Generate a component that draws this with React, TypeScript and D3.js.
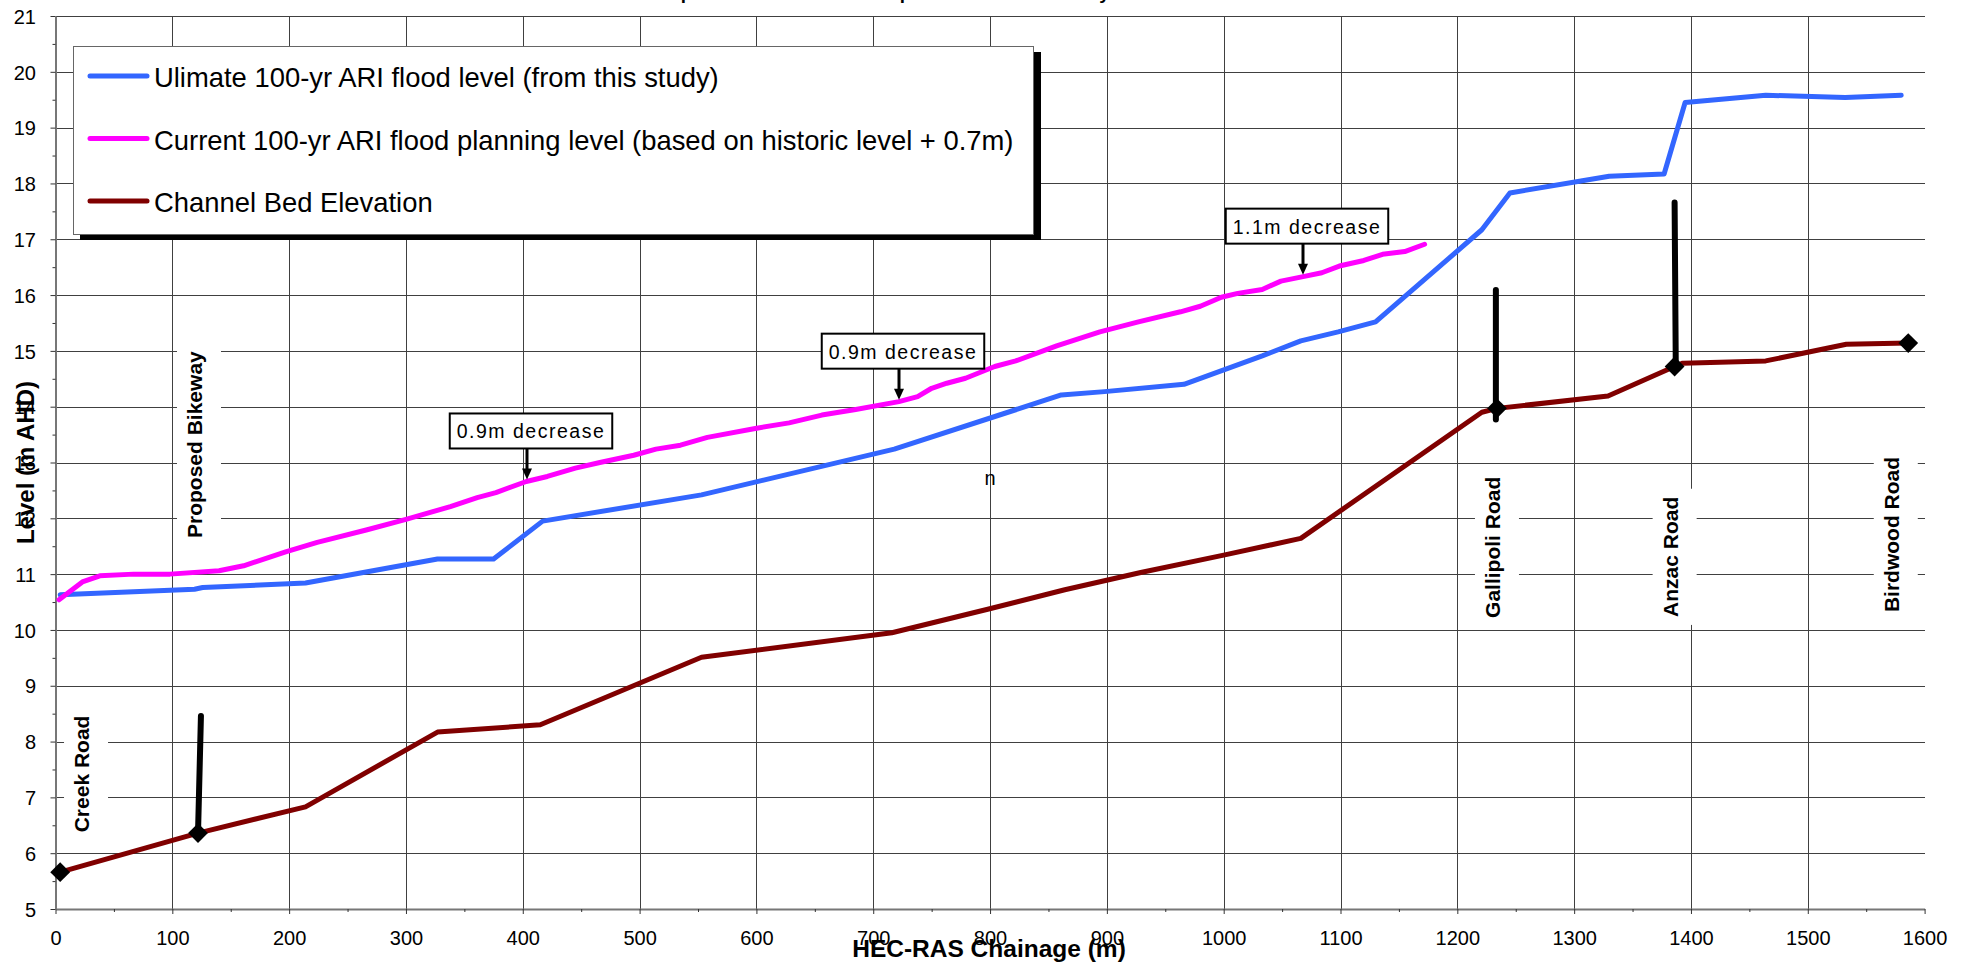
import React, { useEffect, useRef } from 'react';
import * as d3 from 'd3';

const WIDTH = 1973;
const HEIGHT = 965;
const FONT = '"Liberation Sans", Arial, Helvetica, sans-serif';

// Axis ticks
const chainageTicks = d3.range(0, 1601, 100);
const chainageMinorTicks = d3.range(50, 1600, 100);
const levelTicks = d3.range(5, 22, 1);
const levelMinorTicks = d3.range(5.5, 21, 1);

// Ultimate 100-yr ARI flood level [chainage m, level m AHD]
const ultimateFlood: [number, number][] = [
  [4, 10.63], [119, 10.73], [126, 10.76], [214, 10.84], [327, 11.27], [375, 11.27],
  [417, 11.95], [553, 12.42], [718, 13.24], [861, 14.21], [898, 14.27], [966, 14.4],
  [1033, 14.91], [1066, 15.18], [1098, 15.34], [1130, 15.52], [1221, 17.17], [1245, 17.83],
  [1330, 18.13], [1377, 18.17], [1395, 19.45], [1464, 19.58], [1532, 19.54], [1580, 19.58],
];

// Current 100-yr ARI flood planning level
const currentPlanning: [number, number][] = [
  [3, 10.54], [23, 10.86], [38, 10.97], [67, 11.0], [98, 11.0], [140, 11.06], [161, 11.15],
  [197, 11.4], [224, 11.57], [266, 11.79], [300, 11.98], [338, 12.21], [361, 12.37],
  [377, 12.46], [403, 12.66], [421, 12.75], [445, 12.9], [466, 13.0], [495, 13.13],
  [514, 13.24], [535, 13.31], [558, 13.45], [599, 13.61], [628, 13.71], [656, 13.85],
  [685, 13.95], [722, 14.09], [738, 14.18], [750, 14.33], [763, 14.42], [779, 14.51],
  [804, 14.72], [822, 14.82], [857, 15.09], [894, 15.34], [927, 15.52], [963, 15.7],
  [980, 15.8], [998, 15.96], [1012, 16.03], [1033, 16.1], [1049, 16.25], [1068, 16.33],
  [1084, 16.4], [1099, 16.52], [1120, 16.62], [1136, 16.73], [1155, 16.78], [1172, 16.91],
];

// Channel bed elevation
const channelBed: [number, number][] = [
  [4, 5.66], [122, 6.36], [214, 6.83], [327, 8.17], [415, 8.3], [553, 9.51], [716, 9.95],
  [798, 10.37], [864, 10.72], [929, 11.03], [1000, 11.34], [1066, 11.64], [1221, 13.9],
  [1234, 13.97], [1329, 14.19], [1386, 14.72], [1393, 14.78], [1464, 14.82], [1533, 15.12],
  [1586, 15.14],
];

// Road crossing markers on the bed
const crossingMarkers: [number, number][] = [
  [4, 5.66], [122, 6.36], [1234, 13.97], [1386, 14.72], [1586, 15.14],
];

// Structure posts (from bed to deck)
const crossingPosts = [
  { from: [122, 6.36], to: [124.5, 8.46] },
  { from: [1233, 13.77], to: [1233, 16.09] },
  { from: [1387, 14.72], to: [1386, 17.66] },
];

// Vertical road names: baseline chainage, centre level
const roadLabels = [
  { text: 'Creek Road', chainage: 28.7, level: 7.42 },
  { text: 'Proposed Bikeway', chainage: 125.4, level: 13.32 },
  { text: 'Gallipoli Road', chainage: 1236.5, level: 11.48 },
  { text: 'Anzac Road', chainage: 1388.6, level: 11.31 },
  { text: 'Birdwood Road', chainage: 1577.9, level: 11.71 },
];

// Call-outs pointing at the planning level
const decreaseNotes = [
  { text: '0.9m decrease', chainage: 404, level: 12.66 },
  { text: '0.9m decrease', chainage: 722, level: 14.09 },
  { text: '1.1m decrease', chainage: 1068, level: 16.33 },
];

const legendItems = [
  { label: 'Ulimate 100-yr ARI flood level (from this study)', color: '#3366ff' },
  { label: 'Current 100-yr ARI flood planning level (based on historic level + 0.7m)', color: '#ff00ff' },
  { label: 'Channel Bed Elevation', color: '#800000' },
];

const strayMark = { text: 'n', chainage: 800, level: 12.6 };

export default function App() {
  const ref = useRef<SVGSVGElement | null>(null);

  useEffect(() => {
    if (!ref.current) return;
    const svg = d3.select(ref.current);
    svg.selectAll('*').remove();

    const x = d3.scaleLinear().domain([0, 1600]).range([55.5, 1924.6]);
    const y = d3.scaleLinear().domain([5, 21]).range([909, 16]);
    const px = (v: number) => Math.round(x(v)) + 0.5;
    const py = (v: number) => Math.round(y(v)) + 0.5;

    svg.append('rect').attr('width', WIDTH).attr('height', HEIGHT).attr('fill', '#fff');

    // Title (sits mostly above the page edge)
    svg.append('text')
      .attr('x', 639).attr('y', -1)
      .attr('font-family', FONT).attr('font-weight', 'bold').attr('font-size', 18.8)
      .text('Comparison of Flood Level Upstream of the Bikeway');

    // Grid
    const grid = svg.append('g').attr('shape-rendering', 'crispEdges');
    levelTicks.filter((v) => v > 5).forEach((v) => {
      grid.append('line')
        .attr('x1', x(0)).attr('x2', x(1600))
        .attr('y1', py(v)).attr('y2', py(v))
        .attr('stroke', '#404040').attr('stroke-width', 1);
    });
    chainageTicks.filter((v) => v > 0 && v < 1600).forEach((v) => {
      grid.append('line')
        .attr('x1', px(v)).attr('x2', px(v))
        .attr('y1', y(5)).attr('y2', y(21))
        .attr('stroke', '#404040').attr('stroke-width', 1);
    });

    // Axes
    const styleAxis = (g: d3.Selection<SVGGElement, unknown, null, undefined>) => {
      g.selectAll('text').attr('font-family', FONT).attr('font-size', 20).attr('fill', '#000');
      g.selectAll('line').attr('stroke', '#333');
      g.select('.domain').attr('stroke', '#777').attr('stroke-width', 2);
    };
    const xAxis = svg.append('g').attr('transform', `translate(0,${y(5)})`)
      .call(d3.axisBottom(x).tickValues(chainageTicks).tickSize(5).tickSizeOuter(0).tickPadding(17).tickFormat(d3.format('d')));
    styleAxis(xAxis);
    svg.append('g').attr('transform', `translate(0,${y(5)})`)
      .call(d3.axisBottom(x).tickValues(chainageMinorTicks).tickSize(3).tickFormat(() => ''))
      .call((g) => { g.select('.domain').remove(); g.selectAll('line').attr('stroke', '#333'); });
    const yAxis = svg.append('g').attr('transform', `translate(${x(0)},0)`)
      .call(d3.axisLeft(y).tickValues(levelTicks).tickSize(5).tickSizeOuter(0).tickPadding(14.5).tickFormat(d3.format('d')));
    styleAxis(yAxis);
    yAxis.selectAll('text').attr('dy', '0.36em');
    svg.append('g').attr('transform', `translate(${x(0)},0)`)
      .call(d3.axisLeft(y).tickValues(levelMinorTicks).tickSize(3).tickFormat(() => ''))
      .call((g) => { g.select('.domain').remove(); g.selectAll('line').attr('stroke', '#333'); });

    // Road names on white panels
    roadLabels.forEach((r) => {
      const g = svg.append('g');
      const bg = g.append('rect').attr('fill', '#fff');
      const bx = x(r.chainage);
      const cy = y(r.level);
      const t = g.append('text')
        .attr('transform', `translate(${bx},${cy}) rotate(-90)`)
        .attr('text-anchor', 'middle')
        .attr('font-family', FONT).attr('font-weight', 'bold').attr('font-size', 21)
        .attr('fill', '#000')
        .text(r.text);
      const len = (t.node() as SVGTextElement).getComputedTextLength();
      bg.attr('x', bx - 25).attr('y', cy - len / 2 - 8).attr('width', 44).attr('height', len + 16);
    });

    // Series
    const line = d3.line<[number, number]>().x((d) => x(d[0])).y((d) => y(d[1]));
    const series: [[number, number][], string][] = [
      [ultimateFlood, legendItems[0].color],
      [currentPlanning, legendItems[1].color],
      [channelBed, legendItems[2].color],
    ];
    series.forEach(([data, color]) => {
      svg.append('path').datum(data)
        .attr('d', line)
        .attr('fill', 'none').attr('stroke', color).attr('stroke-width', 5)
        .attr('stroke-linejoin', 'round').attr('stroke-linecap', 'round');
    });

    // Crossing posts and markers
    crossingPosts.forEach((p) => {
      svg.append('line')
        .attr('x1', x(p.from[0])).attr('y1', y(p.from[1]))
        .attr('x2', x(p.to[0])).attr('y2', y(p.to[1]))
        .attr('stroke', '#000').attr('stroke-width', 6).attr('stroke-linecap', 'round');
    });
    const diamond = d3.symbol().type(d3.symbolDiamond2).size(250);
    crossingMarkers.forEach((m) => {
      svg.append('path')
        .attr('d', diamond()!)
        .attr('transform', `translate(${x(m[0])},${y(m[1])})`)
        .attr('fill', '#000');
    });

    // Call-outs
    decreaseNotes.forEach((n) => {
      const ax = Math.round(x(n.chainage));
      const tip = y(n.level) - 2;
      const boxBottom = tip - 31;
      const boxH = 35;
      const g = svg.append('g');
      const rect = g.append('rect').attr('fill', '#fff').attr('stroke', '#000').attr('stroke-width', 2);
      const t = g.append('text')
        .attr('x', ax + 4).attr('y', boxBottom - 10)
        .attr('text-anchor', 'middle')
        .attr('font-family', FONT).attr('font-size', 19.5).attr('letter-spacing', 1.5)
        .attr('fill', '#000')
        .text(n.text);
      const w = (t.node() as SVGTextElement).getComputedTextLength() + 14;
      rect.attr('x', ax + 4 - w / 2).attr('y', boxBottom - boxH).attr('width', w).attr('height', boxH);
      g.append('line')
        .attr('x1', ax).attr('x2', ax).attr('y1', boxBottom).attr('y2', tip - 9)
        .attr('stroke', '#000').attr('stroke-width', 3);
      g.append('path')
        .attr('d', `M${ax - 5},${tip - 11}L${ax + 5},${tip - 11}L${ax},${tip}Z`)
        .attr('fill', '#000');
    });

    // Legend
    const lg = svg.append('g');
    lg.append('rect').attr('x', 80).attr('y', 52).attr('width', 961).attr('height', 188).attr('fill', '#000');
    lg.append('rect').attr('x', 73.5).attr('y', 46.5).attr('width', 960).attr('height', 188)
      .attr('fill', '#fff').attr('stroke', '#666').attr('stroke-width', 1);
    legendItems.forEach((item, i) => {
      const ly = 76 + i * 62.5;
      lg.append('line')
        .attr('x1', 90).attr('x2', 147).attr('y1', ly).attr('y2', ly)
        .attr('stroke', item.color).attr('stroke-width', 5).attr('stroke-linecap', 'round');
      lg.append('text')
        .attr('x', 154).attr('y', ly + 11)
        .attr('font-family', FONT).attr('font-size', 27.4).attr('fill', '#000')
        .text(item.label);
    });

    // Stray glyph in the plot
    svg.append('text')
      .attr('x', x(strayMark.chainage)).attr('y', y(strayMark.level))
      .attr('text-anchor', 'middle')
      .attr('font-family', FONT).attr('font-size', 20).attr('fill', '#000')
      .text(strayMark.text);

    // Axis titles
    svg.append('text')
      .attr('transform', `translate(34,${(y(5) + y(21)) / 2}) rotate(-90)`)
      .attr('text-anchor', 'middle')
      .attr('font-family', FONT).attr('font-weight', 'bold').attr('font-size', 24)
      .text('Level (m AHD)');
    svg.append('text')
      .attr('x', 989).attr('y', 957)
      .attr('text-anchor', 'middle')
      .attr('font-family', FONT).attr('font-weight', 'bold').attr('font-size', 24.5)
      .text('HEC-RAS Chainage (m)');
  }, []);

  return (
    <svg
      ref={ref}
      width={WIDTH}
      height={HEIGHT}
      style={{ position: 'absolute', left: 0, top: 0, display: 'block' }}
    />
  );
}
